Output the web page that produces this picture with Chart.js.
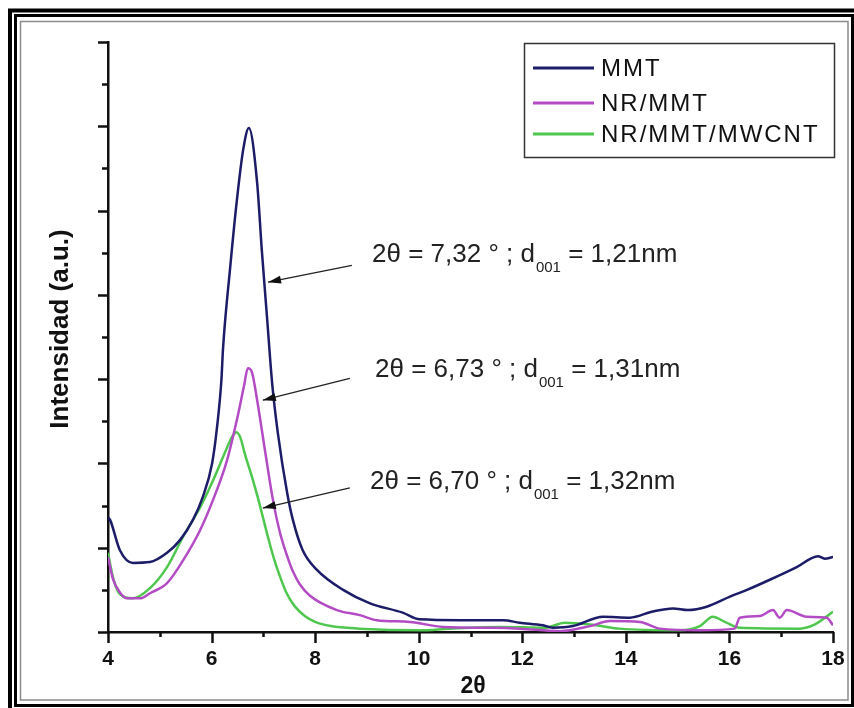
<!DOCTYPE html>
<html>
<head>
<meta charset="utf-8">
<script src="https://cdn.jsdelivr.net/npm/chart.js@4.4.1/dist/chart.umd.min.js"></script>
<style>
  html, body { margin: 0; padding: 0; background: #fff; }
  #wrap { width: 854px; height: 708px; }
</style>
</head>
<body>
<div id="wrap"><canvas id="xrdChart" width="854" height="708"></canvas></div>
<script>
// series: 2theta (deg) and intensity (a.u.)
const seriesNames = ['MMT', 'NR/MMT', 'NR/MMT/MWCNT'];
const seriesColors = ['#1c1c68', '#b34cc4', '#4fc74f'];

const mmtTheta = [4.00, 4.04, 4.23, 4.48, 4.81, 5.14, 5.39, 5.64, 5.83, 6.01, 6.10, 6.19, 6.22, 6.36, 6.49, 6.61, 6.72,
  6.88, 6.97, 7.07, 7.17, 7.28, 7.46, 7.57, 7.76, 8.03, 8.54, 9.06, 9.69, 10.02, 10.80, 11.63, 11.95, 12.40, 12.59,
  12.98, 13.56, 14.08, 14.50, 14.91, 15.20, 15.56, 16.01, 16.34, 16.78, 17.30, 17.71, 17.84, 18.00];
const mmtIntensity = [136, 133, 97, 82, 83, 94, 109, 133, 160, 200, 240, 299, 335, 433, 513, 572, 598,
  533, 453, 374, 295, 236, 165, 133, 97, 74, 50, 34, 23, 15, 14, 14, 11, 8, 5,
  7, 18, 17, 24, 28, 26, 30, 42, 50, 62, 77, 90, 87, 89];

const nrTheta = [4.00, 4.10, 4.23, 4.37, 4.62, 4.81, 5.14, 5.45, 5.78, 6.03, 6.30, 6.49, 6.63, 6.70, 6.78, 6.88,
  7.03, 7.19, 7.32, 7.46, 7.57, 7.70, 7.90, 8.42, 8.86, 9.19, 9.83, 10.47, 11.43, 11.95, 12.73, 13.31, 13.69, 14.27,
  14.66, 15.43, 16.10, 16.20, 16.59, 16.84, 16.97, 17.11, 17.49, 17.88, 18.00];
const nrIntensity = [89, 62, 47, 40, 40, 46, 58, 85, 121, 157, 204, 252, 293, 313, 308, 275,
  216, 155, 118, 90, 72, 57, 43, 26, 20, 14, 12, 6, 5, 4, 1, 7, 13, 12,
  4, 2, 4, 17, 19, 26, 17, 26, 18, 17, 8];

const cntTheta = [4.00, 4.10, 4.23, 4.48, 4.81, 5.14, 5.45, 5.78, 6.03, 6.30, 6.40, 6.48, 6.56, 6.64, 6.80, 6.90,
  7.00, 7.10, 7.20, 7.32, 7.45, 7.60, 7.80, 8.00, 8.30, 8.86, 10.02, 10.60, 11.57, 12.44, 12.82, 13.31, 13.88,
  15.04, 15.43, 15.68, 15.91, 16.20, 17.36, 17.65, 18.00];
const cntIntensity = [94, 64, 45, 40, 52, 77, 113, 148, 180, 219, 232, 237, 230, 212, 180, 158,
  134, 110, 88, 66, 46, 31, 19, 12, 7, 4, 2, 4, 6, 5, 11, 9, 4,
  2, 7, 18, 12, 5, 4, 9, 24];

const xTickValues = [4, 6, 8, 10, 12, 14, 16, 18];
const yTickValues = [0, 50, 100, 150, 200, 250, 300, 350, 400, 450, 500, 550, 600, 650, 700];

// peak notes: arrow tail -> head in data units
const peakNotes = [
  { pre: '2θ = 7,32 ° ; d', sub: '001', post: ' = 1,21nm', tail: [8.71, 435], head: [7.09, 415], textX: 372, textY: 255 },
  { pre: '2θ = 6,73 ° ; d', sub: '001', post: ' = 1,31nm', tail: [8.67, 301], head: [6.99, 275], textX: 375, textY: 370 },
  { pre: '2θ = 6,70 ° ; d', sub: '001', post: ' = 1,32nm', tail: [8.67, 171], head: [6.99, 147], textX: 370, textY: 482 }
];

function pairs(xs, ys) {
  return xs.map((x, i) => ({ x: x, y: ys[i] }));
}

const FONT = 'Arial, "Liberation Sans", sans-serif';

const framePlugin = {
  id: 'frame',
  beforeDraw(chart) {
    const c = chart.ctx;
    c.save();
    c.fillStyle = '#fff';
    c.fillRect(0, 0, chart.width, chart.height);
    c.strokeStyle = '#000';
    c.lineWidth = 4;
    c.strokeRect(10, 10.5, 860, 720);
    c.lineWidth = 3;
    c.strokeRect(15.5, 15.5, 837, 690);
    c.strokeStyle = '#8a8a8a';
    c.lineWidth = 1.5;
    c.strokeRect(20.5, 21.5, 827.5, 678.5);
    c.restore();
  }
};

const axisPlugin = {
  id: 'axisExtras',
  afterDraw(chart) {
    const c = chart.ctx;
    const xs = chart.scales.x, ys = chart.scales.y;
    const area = chart.chartArea;
    c.save();
    c.strokeStyle = '#111';
    c.lineWidth = 2.5;
    // y ticks point left, major every 100
    yTickValues.forEach(v => {
      const py = Math.round(ys.getPixelForValue(v)) + 0.5;
      const len = v % 100 === 0 ? 10 : 6;
      c.beginPath();
      c.moveTo(area.left, py);
      c.lineTo(area.left - len, py);
      c.stroke();
    });
    // x ticks point down, minor at odd values
    for (let t = 4; t <= 18; t++) {
      const px = Math.round(xs.getPixelForValue(t)) + 0.5;
      const len = t % 2 === 0 ? 11 : 5;
      c.beginPath();
      c.moveTo(px, area.bottom);
      c.lineTo(px, area.bottom + len);
      c.stroke();
    }
    // axis titles
    c.fillStyle = '#111';
    c.font = 'bold 23px ' + FONT;
    c.textAlign = 'center';
    c.textBaseline = 'middle';
    c.fillText('2θ', 473, 687);
    c.font = 'bold 26px ' + FONT;
    c.translate(61, 329);
    c.rotate(-Math.PI / 2);
    c.fillText('Intensidad (a.u.)', 0, 0);
    c.restore();

    // legend box
    c.save();
    c.strokeStyle = '#333';
    c.lineWidth = 1.5;
    c.strokeRect(524.5, 43.5, 310, 114);
    c.font = '24px ' + FONT;
    c.letterSpacing = '2px';
    c.textBaseline = 'middle';
    c.textAlign = 'left';
    const rows = [68, 103, 134];
    seriesNames.forEach((n, i) => {
      c.strokeStyle = seriesColors[i];
      c.lineWidth = 3;
      c.beginPath();
      c.moveTo(533, rows[i]);
      c.lineTo(594, rows[i]);
      c.stroke();
      c.fillStyle = '#111';
      c.fillText(n, 601, rows[i] + 1);
    });
    c.restore();

    // peak notes with arrows
    c.save();
    peakNotes.forEach(n => {
      const tx = xs.getPixelForValue(n.tail[0]), ty = ys.getPixelForValue(n.tail[1]);
      const hx = xs.getPixelForValue(n.head[0]), hy = ys.getPixelForValue(n.head[1]);
      c.strokeStyle = '#222';
      c.fillStyle = '#111';
      c.lineWidth = 1.3;
      c.beginPath();
      c.moveTo(tx, ty);
      c.lineTo(hx, hy);
      c.stroke();
      const a = Math.atan2(hy - ty, hx - tx);
      c.beginPath();
      c.moveTo(hx, hy);
      c.lineTo(hx - 13 * Math.cos(a) + 4 * Math.sin(a), hy - 13 * Math.sin(a) - 4 * Math.cos(a));
      c.lineTo(hx - 13 * Math.cos(a) - 4 * Math.sin(a), hy - 13 * Math.sin(a) + 4 * Math.cos(a));
      c.closePath();
      c.fill();

      c.fillStyle = '#222';
      c.textAlign = 'left';
      c.textBaseline = 'middle';
      c.font = '26px ' + FONT;
      let x = n.textX;
      c.fillText(n.pre, x, n.textY);
      x += c.measureText(n.pre).width + 1;
      c.font = '15px ' + FONT;
      c.fillText(n.sub, x, n.textY + 13);
      x += c.measureText(n.sub).width;
      c.font = '26px ' + FONT;
      c.fillText(n.post, x, n.textY);
    });
    c.restore();
  }
};

const ctx = document.getElementById('xrdChart');

new Chart(ctx, {
  type: 'line',
  data: {
    datasets: [
      { label: seriesNames[0], data: pairs(mmtTheta, mmtIntensity), borderColor: seriesColors[0] },
      { label: seriesNames[1], data: pairs(nrTheta, nrIntensity), borderColor: seriesColors[1] },
      { label: seriesNames[2], data: pairs(cntTheta, cntIntensity), borderColor: seriesColors[2] }
    ]
  },
  options: {
    responsive: false,
    animation: false,
    events: [],
    layout: { padding: { left: 108, top: 42, right: 21, bottom: 36 } },
    elements: {
      point: { radius: 0 },
      line: { borderWidth: 2.5, cubicInterpolationMode: 'monotone', fill: false }
    },
    plugins: {
      legend: { display: false },
      tooltip: { enabled: false }
    },
    scales: {
      x: {
        type: 'linear',
        min: 4,
        max: 18,
        afterFit: s => { s.height = 40; s.paddingLeft = 0; s.paddingRight = 0; },
        afterBuildTicks: s => { s.ticks = xTickValues.map(v => ({ value: v })); },
        grid: { display: false, drawTicks: false },
        border: { display: true, color: '#111', width: 2.5 },
        ticks: {
          color: '#111',
          padding: 15,
          autoSkip: false,
          font: { family: FONT, size: 21, weight: 'bold' },
          maxRotation: 0
        }
      },
      y: {
        min: 0,
        max: 700,
        afterFit: s => { s.width = 0; s.paddingTop = 0; s.paddingBottom = 0; },
        grid: { display: false, drawTicks: false },
        border: { display: true, color: '#111', width: 2.5 },
        ticks: { display: false }
      }
    }
  },
  plugins: [framePlugin, axisPlugin]
});
</script>
</body>
</html>
